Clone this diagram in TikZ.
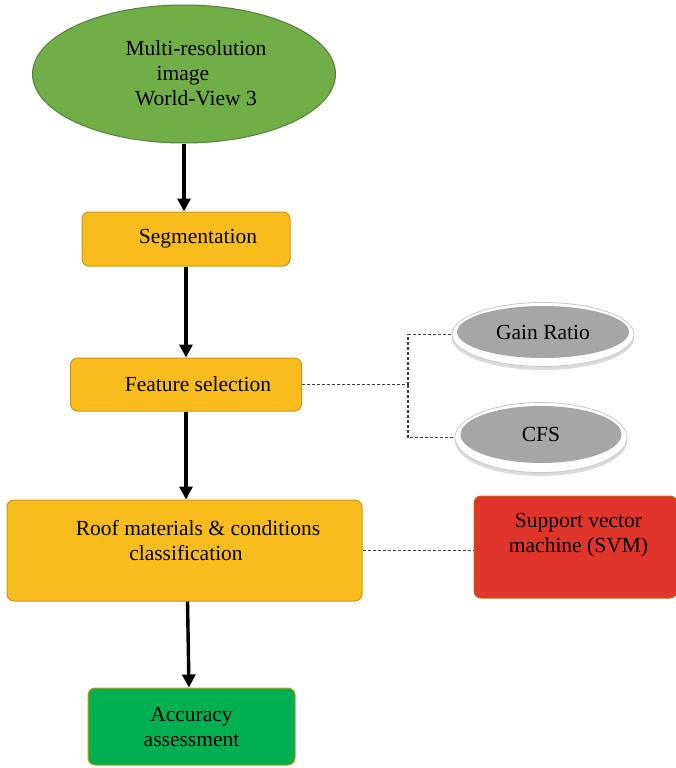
\documentclass[tikz,border=0pt]{standalone}
\usepackage{fontspec}
\setmainfont{Liberation Serif}
\usetikzlibrary{shapes.geometric,arrows.meta}
\definecolor{gfill}{HTML}{72AE48}
\definecolor{gbord}{HTML}{557F3A}
\definecolor{yfill}{HTML}{F8BD1C}
\definecolor{ybord}{HTML}{C8961C}
\definecolor{accfill}{HTML}{00B050}
\definecolor{svmfill}{HTML}{E0352A}
\definecolor{svmbord}{HTML}{C8621C}
\definecolor{grayfill}{HTML}{A6A6A6}
\definecolor{dashgray}{HTML}{404040}
\begin{document}
\begin{tikzpicture}[x=1pt,y=-1pt,
  font=\fontsize{21.5}{25}\selectfont,
  box/.style={draw=ybord, fill=yfill, rounded corners=7pt, line width=1pt, inner sep=0pt},
  flow/.style={line width=3.4pt, -{Triangle[length=13pt,width=13pt]}},
  dashline/.style={draw=dashgray, line width=1.2pt, dash pattern=on 3pt off 2pt},
  rim/.style={ellipse, draw=black!22, fill=white, line width=0.8pt, inner sep=0pt},
  core/.style={ellipse, fill=grayfill, inner sep=0pt},
  txt/.style={align=center}
]
\useasboundingbox (0,0) rectangle (675,768);

% top ellipse
\node[ellipse, draw=gbord, fill=gfill, line width=1pt, minimum width=303pt, minimum height=138pt, inner sep=0pt,
  label={[txt, xshift=12pt, yshift=1pt]center:{Multi-resolution\\image\hspace*{26pt}\mbox{}\\World-View 3}}] (img) at (184,74) {};

% flow boxes
\node[box, minimum width=208pt, minimum height=54pt,
  label={[xshift=12pt]center:Segmentation}] (seg) at (186,239) {};
\node[box, minimum width=231pt, minimum height=53pt,
  label={[xshift=12pt]center:Feature selection}] (feat) at (186,384.5) {};
\node[box, minimum width=355pt, minimum height=101pt,
  label={[txt, xshift=13.5pt, yshift=10pt]center:{Roof materials \& conditions\\classification\hspace*{24pt}\mbox{}}}] (roof) at (184.5,550.5) {};
\node[box, fill=accfill, minimum width=207pt, minimum height=77pt,
  label={[txt]center:{Accuracy\\assessment}}] (acc) at (191.5,726.5) {};
\node[box, fill=svmfill, draw=svmbord, minimum width=203pt, minimum height=102pt,
  label={[txt, xshift=3pt, yshift=12pt]center:{Support vector\\machine (SVM)}}] (svm) at (575.5,547) {};

% gray ellipses
\fill[black!14] (543,338) ellipse [x radius=91pt, y radius=32pt];
\node[rim, minimum width=182pt, minimum height=64pt] (grrim) at (543,334.5) {};
\node[core, minimum width=172pt, minimum height=52pt] (gr) at (543,332) {Gain Ratio};
\fill[black!14] (541,441) ellipse [x radius=86pt, y radius=35pt];
\node[rim, minimum width=172pt, minimum height=70pt] (cfsrim) at (541,437.5) {};
\node[core, minimum width=161pt, minimum height=57pt] (cfs) at (541,434.5) {CFS};

% main arrows
\draw[flow] (img.south) -- (img.south |- seg.north);
\draw[flow] (seg.south) -- (seg.south |- feat.north);
\draw[flow] (feat.south) -- (feat.south |- roof.north);
\draw[flow] ([xshift=3pt]roof.south) -- ([xshift=-2.5pt]acc.north);

% dashed connectors
\coordinate (j) at (408,384.5);
\draw[dashline] (feat.east) -- (j);
\draw[dashline] (j) |- (grrim.west);
\draw[dashline] (j) |- (cfsrim.west);
\draw[dashline] (roof.east) -- (svm.west |- roof.east);
\end{tikzpicture}
\end{document}
